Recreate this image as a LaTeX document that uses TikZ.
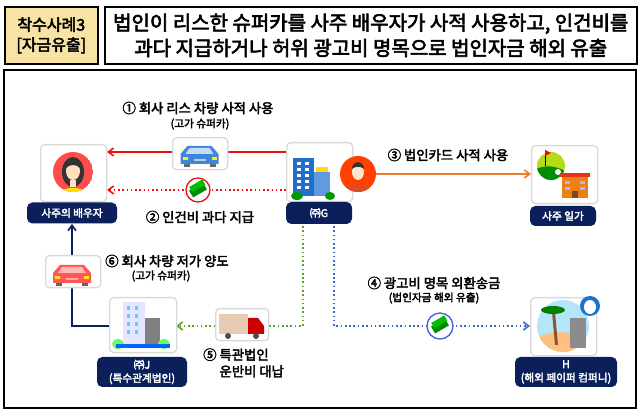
\documentclass[tikz,border=0pt]{standalone}
\usepackage{fontspec}
\setmainfont{Noto Sans CJK KR}[BoldFont={Noto Sans CJK KR},BoldFeatures={FakeBold=3}]
\usetikzlibrary{arrows.meta}
\definecolor{navy}{HTML}{0B1F5B}
\definecolor{hdr}{HTML}{F7E3A3}
\definecolor{redl}{HTML}{F01010}
\definecolor{orl}{HTML}{F07830}
\definecolor{grl}{HTML}{5AA02C}
\definecolor{bll}{HTML}{3C64D2}
\definecolor{bluebld}{HTML}{1E6FD0}
\tikzset{
  x=0.75pt,y=-0.75pt,
  ibox/.style={draw=black!15,line width=1pt,fill=white,rounded corners=3pt},
  lbl/.style={fill=navy,text=white,rounded corners=4pt,font=\bfseries\fontsize{8}{10}\selectfont,align=center,inner sep=0pt},
  txt/.style={font=\bfseries\fontsize{10}{12.5}\selectfont,align=center,inner sep=0pt},
  sub/.style={font=\bfseries\fontsize{8}{9}\selectfont,inner sep=0pt},
  arr/.style={-{Straight Barb[length=4pt,width=6pt]},line width=1.2pt},
}
\newcommand{\mycar}[2]{\begin{scope}[shift={(#1)}]
\fill[#2] (-19,13) -- (-19,3) -- (-12,-5) -- (12,-5) -- (19,3) -- (19,13) -- cycle;
\fill[white!70!#2] (-10,-3) -- (10,-3) -- (14,3) -- (-14,3) -- cycle;
\fill[black!60] (-16,13) rectangle (-10,16); \fill[black!60] (10,13) rectangle (16,16);
\fill[yellow] (-17,6) rectangle (-12,9); \fill[yellow] (12,6) rectangle (17,9);
\fill[white!60!#2] (-6,8) rectangle (6,10);
\end{scope}}
\newcommand{\mymoney}[1]{\begin{scope}[shift={(#1)}]
\fill[green!55!black,rotate=30] (-8,-4) rectangle (8,4);
\fill[green!75!black,rotate=30] (-6,-7) rectangle (9,-1);
\end{scope}}
\begin{document}
\begin{tikzpicture}
\useasboundingbox (0,0) rectangle (640,413);
\fill[white] (0,0) rectangle (640,413);
% header
\node[draw,line width=1.2pt,fill=hdr,minimum width=93*0.75pt,minimum height=57*0.75pt,anchor=north west,inner sep=0pt,align=center,font=\bfseries\fontsize{12}{15}\selectfont] (h1) at (4,6) {착수사례3\\{[}자금유출{]}};
\node[draw,line width=1.2pt,minimum width=532*0.75pt,minimum height=57*0.75pt,anchor=north west,inner sep=0pt,align=center,font=\bfseries\fontsize{15}{19}\selectfont] (h2) at (104,6) {법인이 리스한 슈퍼카를 사주 배우자가 사적 사용하고, 인건비를\\과다 지급하거나 허위 광고비 명목으로 법인자금 해외 유출};
\draw[line width=1.2pt] (4,70) rectangle (636,408);
% connectors
\draw[arr,redl] (286,152) -- (107,152);
\draw[arr,redl,dotted] (286,190) -- (107,190);
\draw[arr,orl] (376,174) -- (531,174);
\draw[arr,grl,dotted] (303,226) -- (303,326) -- (176,326);
\draw[arr,bll,dotted] (334,226) -- (334,326) -- (530,326);
\draw[arr,navy] (109,326) -- (72,326) -- (72,224);
% boxes
\node[ibox,minimum width=66*0.75pt,minimum height=57*0.75pt,anchor=north west] (sp) at (40,144) {};
\node[lbl,minimum width=90*0.75pt,minimum height=21*0.75pt] (spl) at (72,213) {사주의 배우자};
\node[ibox,minimum width=55*0.75pt,minimum height=32*0.75pt,anchor=north west] (car) at (172,137) {};
\node[ibox,minimum width=66*0.75pt,minimum height=59*0.75pt,anchor=north west] (g) at (286,142) {};
\node[lbl,minimum width=66*0.75pt,minimum height=22*0.75pt] (gl) at (319,213) {㈜G};
\node[ibox,minimum width=66*0.75pt,minimum height=58*0.75pt,anchor=north west] (golf) at (531,145) {};
\node[lbl,minimum width=66*0.75pt,minimum height=20*0.75pt] (golfl) at (563,216) {사주 일가};
\node[ibox,minimum width=55*0.75pt,minimum height=32*0.75pt,anchor=north west] (pcar) at (45,255) {};
\node[ibox,minimum width=67*0.75pt,minimum height=55*0.75pt,anchor=north west] (j) at (109,297) {};
\node[lbl,minimum width=90*0.75pt,minimum height=30*0.75pt] (jl) at (142,372) {㈜J\\(특수관계법인)};
\node[ibox,minimum width=53*0.75pt,minimum height=32*0.75pt,anchor=north west] (tr) at (215,308) {};
\node[ibox,minimum width=66*0.75pt,minimum height=58*0.75pt,anchor=north west] (h) at (530,297) {};
\node[lbl,minimum width=102*0.75pt,minimum height=30*0.75pt] (hl) at (566,372) {H\\(해외 페이퍼 컴퍼니)};
% spouse
\begin{scope}
\clip (73,172) circle (20);
\fill[red!60!pink] (73,172) circle (20);
\fill[black!80] (73,172) ellipse (11 and 15);
\fill[yellow!85!orange] (54,200) .. controls (55,184) and (91,184) .. (92,200) -- cycle;
\fill[orange!25!white] (70,180) rectangle (76,187);
\fill[orange!25!white] (73,171) ellipse (7 and 9);
\fill[black!80] (66,168) .. controls (66,158) and (80,158) .. (80,168) .. controls (76,164) and (70,164) .. (66,168) -- cycle;
\end{scope}
% blue car
\mycar{199.5,151}{bluebld!85}
% building G
\fill[bluebld] (293,158) rectangle (314,196);
\fill[bluebld!70] (314,172) rectangle (330,196);
\fill[yellow!80!orange] (316,167) rectangle (328,172);
\foreach \yy in {162,168,174,180,186}{\fill[white] (297,\yy) rectangle (301,\yy+3); \fill[white] (305,\yy) rectangle (309,\yy+3);}
\fill[green!60!black] (297,196) ellipse (6 and 4);\fill[green!60!black] (330,196) ellipse (5 and 4);
% person
\fill[orange!50!red] (358,174) circle (18);
\begin{scope}\clip (358,174) circle (18);
\fill[red!40!brown] (344,194) .. controls (344,182) and (372,182) .. (372,194) -- cycle;
\fill[orange!20!white] (358,172) ellipse (6 and 8);
\fill[black!80] (352,169) .. controls (352,160) and (364,160) .. (364,169) .. controls (361,166) and (355,166) .. (352,169) -- cycle;
\end{scope}
% money icons
\draw[redl,line width=1pt,fill=white] (198,190) circle (12);
\mymoney{198,190}
\draw[bll,line width=1pt,fill=white] (440,326) circle (13);
\mymoney{440,326}
% golf/hotel
\fill[yellow!70!green] (551,166) circle (14);
\begin{scope}\clip (551,166) circle (14);
\fill[green!55!black] (534,170) .. controls (545,164) and (558,166) .. (566,172) -- (566,182) -- (534,182) -- cycle;
\end{scope}
\fill[white] (558,172) circle (3);
\draw[black] (545,150) -- (545,166); \fill[red] (545,150) -- (551,153) -- (545,156) -- cycle;
\fill[orange!70!brown] (562,176) rectangle (588,198);
\fill[red!60!brown] (560,173) rectangle (590,177);
\foreach \yy in {181,187}{\fill[blue!30] (565,\yy) rectangle (570,\yy+3); \fill[blue!30] (580,\yy) rectangle (585,\yy+3);}
\fill[brown!60!black] (572,191) rectangle (578,198);
% pink car
\mycar{72,270}{red!55!pink}
% building J
\fill[blue!10] (123,302) rectangle (145,344);
\fill[black!50] (145,318) rectangle (160,344);
\foreach \yy in {306,314,322,330}{\fill[cyan!60] (127,\yy) rectangle (130,\yy+4); \fill[cyan!60] (135,\yy) rectangle (138,\yy+4);}
\fill[green!60] (118,344) ellipse (6 and 5); \fill[green!60] (164,344) ellipse (6 and 5);
\fill[blue!60!cyan] (116,344) rectangle (170,348);
% truck
\fill[brown!40!white] (219,314) rectangle (248,334);
\fill[red!80!black] (248,318) -- (258,318) -- (264,326) -- (264,334) -- (248,334) -- cycle;
\fill[black!70] (228,336) circle (3); \fill[black!70] (256,336) circle (3);
% H island
\fill[cyan!30] (563,326) circle (26);
\begin{scope}\clip (563,326) circle (26);
\fill[orange!50] (537,338) .. controls (555,328) and (575,332) .. (590,342) -- (590,355) -- (537,355) -- cycle;
\end{scope}
\fill[black!45] (570,318) rectangle (586,348);
\fill[brown!70!black] (552,312) -- (555,312) -- (558,345) -- (555,345) -- cycle;
\fill[green!50!black] (553,310) ellipse (12 and 4);
\fill[bluebld] (590,306) circle (10); \fill[white] (590,307) ellipse (6 and 7);
% labels
\node[txt] (t1) at (198,108) {① 회사 리스 차량 사적 사용};
\node[sub] (t1b) at (200,124) {(고가 슈퍼카)};
\node[txt] (t2) at (200,217) {② 인건비 과다 지급};
\node[txt] (t3) at (448,155) {③ 법인카드 사적 사용};
\node[txt] (t4) at (434,283) {④ 광고비 명목 외환송금};
\node[sub] (t4b) at (434,298) {(법인자금 해외 유출)};
\node[txt,align=left,anchor=west] (t5) at (203,363) {⑤ 특관법인\\\phantom{⑤ }운반비 대납};
\node[txt,anchor=west] (t6) at (105,261) {⑥ 회사 차량 저가 양도};
\node[sub] (t6b) at (161,276) {(고가 슈퍼카)};
\end{tikzpicture}
\end{document}
